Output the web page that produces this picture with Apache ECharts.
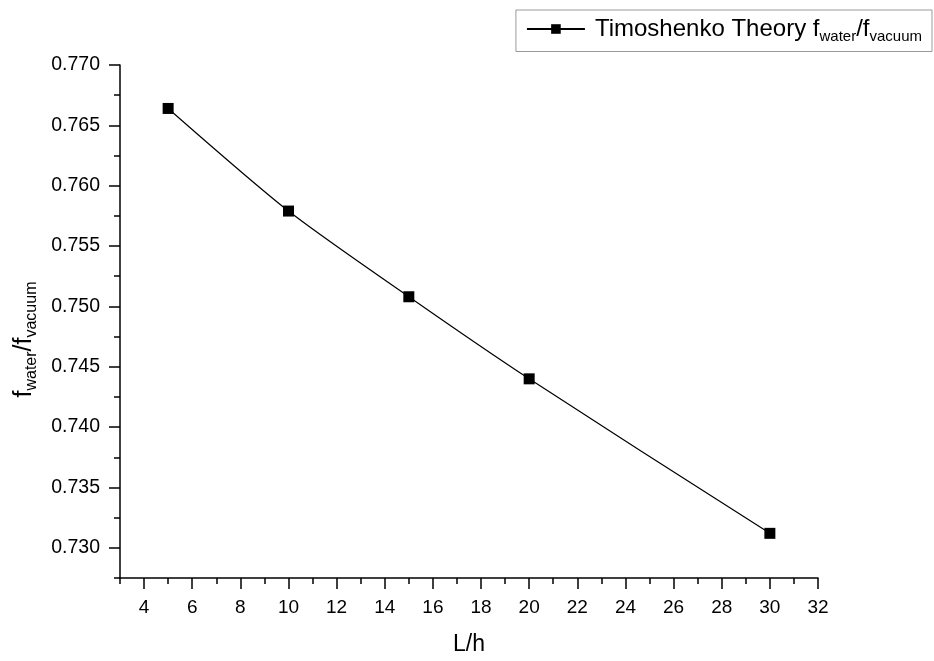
<!DOCTYPE html>
<html>
<head>
<meta charset="utf-8">
<script src="https://cdn.jsdelivr.net/npm/echarts@6/dist/echarts.min.js"></script>
<style>html,body{margin:0;padding:0;background:#fff}#c{width:934px;height:661px}</style>
</head>
<body>
<div id="c"></div>
<script>
// Data
const xValues = [5, 10, 15, 20, 30];
const yValues = [0.7664, 0.7579, 0.7508, 0.7440, 0.7312];
const xMajorTicks = [4, 6, 8, 10, 12, 14, 16, 18, 20, 22, 24, 26, 28, 30, 32];
const xMinorTicks = [3, 5, 7, 9, 11, 13, 15, 17, 19, 21, 23, 25, 27, 29, 31];
const yMajorTicks = [0.730, 0.735, 0.740, 0.745, 0.750, 0.755, 0.760, 0.765, 0.770];
const yMinorTicks = [0.7275, 0.7325, 0.7375, 0.7425, 0.7475, 0.7525, 0.7575, 0.7625, 0.7675];
const seriesName = 'Timoshenko Theory fwater/fvacuum';

const FONT = 'Liberation Sans, Arial, sans-serif';
const chart = echarts.init(document.getElementById('c'), null, {renderer: 'canvas'});
const xMin = 3, xMax = 32, yMin = 0.7275, yMax = 0.770;

const baseAxisLine = {show: true, lineStyle: {color: '#000', width: 1.5}};
chart.setOption({
  backgroundColor: '#fff',
  animation: false,
  grid: {left: 120, right: 116, top: 65, bottom: 80, containLabel: false},
  legend: {
    show: true,
    right: 2, top: 10,
    borderColor: '#999', borderWidth: 1,
    padding: [7, 10, 7, 10],
    itemWidth: 58, itemHeight: 12,
    itemGap: 10,
    formatter: function () {
      return '{f|Timoshenko Theory f}{s|water}{a|/f}{s|vacuum}';
    },
    textStyle: {
      fontFamily: FONT, color: '#000',
      rich: {
        f: {fontSize: 24, fontFamily: FONT, color: '#000', padding: [0, 0, 0, 5]},
        a: {fontSize: 24, fontFamily: FONT, color: '#000'},
        s: {fontSize: 15, fontFamily: FONT, color: '#000', padding: [16, 0, 0, 0]}
      }
    },
    data: [seriesName]
  },
  xAxis: [{
    type: 'value', min: xMin, max: xMax, position: 'bottom',
    name: 'L/h', nameLocation: 'middle', nameGap: 55,
    nameTextStyle: {fontFamily: FONT, fontSize: 23, color: '#000'},
    axisLine: baseAxisLine,
    axisTick: {show: true, inside: false, length: 11, customValues: xMajorTicks, lineStyle: {color: '#000', width: 1.5}},
    axisLabel: {show: true, customValues: xMajorTicks, margin: 20, fontFamily: FONT, fontSize: 19, color: '#000'},
    splitLine: {show: false}
  }, {
    type: 'value', min: xMin, max: xMax, position: 'bottom', gridIndex: 0,
    axisLine: {show: false},
    axisTick: {show: true, inside: false, length: 6, customValues: xMinorTicks, lineStyle: {color: '#000', width: 1.5}},
    axisLabel: {show: false},
    splitLine: {show: false}
  }],
  yAxis: [{
    type: 'value', min: yMin, max: yMax, position: 'left',
    name: '{a|f}{s|water}{a|/f}{s|vacuum}', nameLocation: 'middle', nameGap: 80, nameRotate: 90,
    nameTextStyle: {
      fontFamily: FONT, color: '#000',
      padding: [0, 36, 0, 0],
      rich: {
        a: {fontSize: 25, fontFamily: FONT, color: '#000'},
        s: {fontSize: 16, fontFamily: FONT, color: '#000', padding: [16, 0, 0, 0]}
      }
    },
    axisLine: baseAxisLine,
    axisTick: {show: true, inside: false, length: 11, customValues: yMajorTicks, lineStyle: {color: '#000', width: 1.5}},
    axisLabel: {show: true, customValues: yMajorTicks, margin: 20, fontFamily: FONT, fontSize: 19.5, color: '#000',
      formatter: function (v) { return v.toFixed(3); }},
    splitLine: {show: false}
  }, {
    type: 'value', min: yMin, max: yMax, position: 'left', gridIndex: 0,
    axisLine: {show: false},
    axisTick: {show: true, inside: false, length: 6, customValues: yMinorTicks, lineStyle: {color: '#000', width: 1.5}},
    axisLabel: {show: false},
    splitLine: {show: false}
  }],
  series: [{
    name: seriesName,
    type: 'line',
    xAxisIndex: 0, yAxisIndex: 0,
    data: xValues.map((x, i) => [x, yValues[i]]),
    smooth: 0.25,
    symbol: 'rect', symbolSize: 11,
    itemStyle: {color: '#000'},
    lineStyle: {color: '#000', width: 1.2}
  }]
});
</script>
</body>
</html>
